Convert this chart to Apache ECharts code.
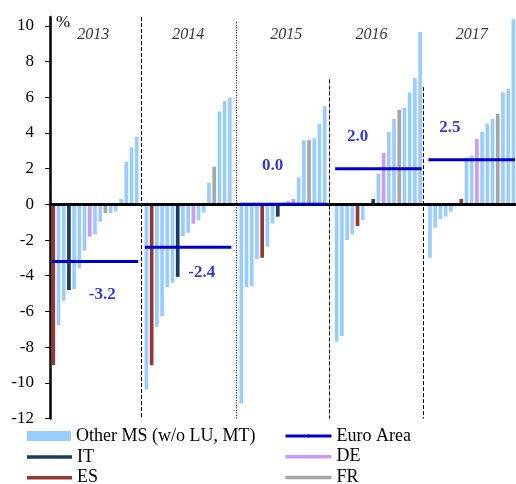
<!doctype html>
<html>
<head>
<meta charset="UTF-8">
<title>Euro Area</title>
<script src="https://cdn.jsdelivr.net/npm/echarts@6/dist/echarts.min.js"></script>
<style>
	html, body { margin: 0; padding: 0; background: #fff; }
	#chart { width: 516px; height: 484px; }
</style>
</head>
<body>
<div id="chart"></div>
<script type="text/javascript">
	// data
	var years = ['2013', '2014', '2015', '2016', '2017'];
	var euroArea = [-3.2, -2.4, 0.0, 2.0, 2.5];
	var yTicks = [-12, -10, -8, -6, -4, -2, 0, 2, 4, 6, 8, 10];

	var values2013 = [-9.0, -6.77, -5.4, -4.8, -4.75, -3.59, -2.6, -1.81, -1.68, -0.97, -0.5, -0.5, -0.4, 0.3, 2.39, 3.2, 3.79];
	var members2013 = ['ES', 'O', 'O', 'IT', 'O', 'O', 'O', 'DE', 'O', 'O', 'FR', 'O', 'O', 'O', 'O', 'O', 'O'];
	var values2014 = [-10.37, -9.0, -6.86, -6.26, -4.65, -4.39, -4.06, -1.78, -1.59, -1.08, -0.88, -0.47, 1.21, 2.11, 5.2, 5.79, 5.98];
	var members2014 = ['O', 'ES', 'O', 'O', 'O', 'O', 'IT', 'O', 'O', 'DE', 'O', 'O', 'O', 'FR', 'O', 'O', 'O'];
	var values2015 = [-11.16, -4.65, -4.58, -3.07, -2.99, -2.37, -1.07, -0.69, 0.1, 0.2, 0.3, 1.51, 3.59, 3.6, 3.7, 4.5, 5.5];
	var members2015 = ['O', 'O', 'O', 'O', 'ES', 'O', 'O', 'IT', 'O', 'O', 'DE', 'O', 'O', 'FR', 'O', 'O', 'O'];
	var values2016 = [-7.7, -7.38, -2.0, -1.68, -1.21, -0.88, 0.0, 0.3, 1.72, 2.88, 4.07, 4.79, 5.29, 5.4, 6.28, 7.08, 9.66];
	var members2016 = ['O', 'O', 'O', 'O', 'ES', 'O', 'O', 'IT', 'O', 'DE', 'O', 'O', 'FR', 'O', 'O', 'O', 'O'];
	var values2017 = [-2.99, -1.31, -0.82, -0.69, -0.41, 0.0, 0.3, 2.62, 2.73, 3.66, 4.07, 4.5, 4.8, 5.07, 6.28, 6.47, 10.37];
	var members2017 = ['O', 'O', 'O', 'O', 'O', 'IT', 'ES', 'O', 'O', 'DE', 'O', 'O', 'O', 'FR', 'O', 'O', 'O'];

	var allValues = [values2013, values2014, values2015, values2016, values2017];
	var allMembers = [members2013, members2014, members2015, members2016, members2017];

	// layout (slot positions on the x axis)
	var groupStart = [0.63, 18.5, 36.7, 55.0, 72.9];
	var separatorX = [17.6, 35.7, 53.55, 71.6];
	var separatorTop = [10.5, 10.2, 7.0, 6.57];
	var separatorDash = ['dashed', [1, 1.5], 'dashed', 'dashed'];
	var yearLabelX = [8.3, 26.5, 45.3, 61.7, 80.9];
	var euroLabelShift = [9.4, 10.6, 6.0, 4.0, 3.8];
	var euroLabelDy = [33, 25, -39, -32, -32];

	var seriesDefs = [
		{ key: 'O', name: 'Other MS (w/o LU, MT)', color: '#99CCFF' },
		{ key: 'IT', name: 'IT', color: '#1B3A60' },
		{ key: 'DE', name: 'DE', color: '#CC99FF' },
		{ key: 'ES', name: 'ES', color: '#953735' },
		{ key: 'FR', name: 'FR', color: '#A6A6A6' }
	];
	var euroColor = '#0000CC';
	var serif = 'Liberation Serif';

	var series = [];
	for (var s = 0; s < seriesDefs.length; s++) {
		var def = seriesDefs[s];
		var data = [];
		for (var g = 0; g < years.length; g++) {
			for (var i = 0; i < allValues[g].length; i++) {
				if (allMembers[g][i] == def.key) {
					data.push([groupStart[g] + i, allValues[g][i]]);
				}
			}
		}
		series.push({
			name: def.name,
			type: 'bar',
			data: data,
			barWidth: 3.7,
			barGap: '-100%',
			itemStyle: { color: def.color },
			z: 2
		});
	}

	// year separators
	var sepData = [];
	for (var k = 0; k < separatorX.length; k++) {
		sepData.push([
			{ coord: [separatorX[k], separatorTop[k]], lineStyle: { type: separatorDash[k], color: '#000', width: 1 } },
			{ coord: [separatorX[k], -12] }
		]);
	}
	series[0].markLine = {
		silent: true,
		symbol: ['none', 'none'],
		label: { show: false },
		data: sepData
	};

	// euro area lines
	for (var g = 0; g < years.length; g++) {
		var last = groupStart[g] + allValues[g].length - 1;
		series.push({
			name: 'Euro Area',
			type: 'line',
			symbol: 'none',
			data: [[groupStart[g] - 0.3, euroArea[g]], [last + 0.3, euroArea[g]]],
			lineStyle: { color: euroColor, width: 3 },
			itemStyle: { color: euroColor },
			z: 20
		});
	}

	// euro area value labels
	var euroLabels = [];
	for (var g = 0; g < years.length; g++) {
		euroLabels.push({
			value: [groupStart[g] + euroLabelShift[g], euroArea[g]],
			label: { offset: [0, euroLabelDy[g]] }
		});
	}
	series.push({
		name: 'euroLabels',
		type: 'scatter',
		symbolSize: 0,
		silent: true,
		data: euroLabels,
		label: {
			show: true,
			position: 'inside',
			formatter: function(p) { return p.value[1].toFixed(1); },
			color: euroColor,
			fontFamily: serif,
			fontWeight: 'bold',
			fontSize: 17
		},
		z: 21
	});

	// year labels
	var yearData = [];
	for (var g = 0; g < years.length; g++) {
		yearData.push([yearLabelX[g], 9.5, years[g]]);
	}
	series.push({
		name: 'years',
		type: 'scatter',
		symbolSize: 0,
		silent: true,
		data: yearData,
		label: {
			show: true,
			position: 'inside',
			formatter: function(p) { return p.value[2]; },
			color: '#000',
			fontFamily: serif,
			fontStyle: 'italic',
			fontSize: 16
		}
	});

	var legendText = { fontFamily: serif, fontSize: 18, color: '#000', lineHeight: 18 };

	var option = {
		animation: false,
		backgroundColor: '#fff',
		grid: { left: 50, right: 0, top: 17, bottom: 65.5 },
		legend: [{
			data: [{ name: 'Other MS (w/o LU, MT)', icon: 'rect' }],
			left: 27, top: 427, padding: 0,
			itemWidth: 44, itemHeight: 10,
			textStyle: legendText
		}, {
			data: [{ name: 'IT', icon: 'rect' }, { name: 'ES', icon: 'rect' }],
			orient: 'vertical',
			left: 27, top: 448, height: 80, padding: 0,
			itemWidth: 45, itemHeight: 3.5, itemGap: 2.7,
			textStyle: legendText
		}, {
			data: [{ name: 'Euro Area' }, { name: 'DE', icon: 'rect' }, { name: 'FR', icon: 'rect' }],
			orient: 'vertical',
			left: 284, top: 427, height: 80, padding: 0,
			itemWidth: 46, itemHeight: 3.5, itemGap: 2.7,
			lineStyle: { width: 3 },
			textStyle: legendText
		}],
		xAxis: {
			type: 'value',
			min: 0,
			max: 89.4,
			z: 10,
			axisLine: { onZero: true, lineStyle: { color: '#000', width: 3 } },
			axisTick: { show: false },
			axisLabel: { show: false },
			splitLine: { show: false }
		},
		yAxis: {
			type: 'value',
			min: -12,
			max: 10.5,
			interval: 2,
			name: '%',
			nameLocation: 'end',
			nameGap: -6,
			nameTextStyle: { fontFamily: serif, fontSize: 17, color: '#000', align: 'left', verticalAlign: 'middle', padding: [0, 0, 0, 6] },
			axisLine: { show: true, onZero: false, lineStyle: { color: '#000', width: 2.5 } },
			axisTick: { show: true, length: 5, customValues: yTicks, lineStyle: { color: '#000' } },
			axisLabel: { customValues: yTicks, margin: 16, fontFamily: serif, fontSize: 17, color: '#000' },
			splitLine: { show: false }
		},
		series: series
	};

	var chart = echarts.init(document.getElementById('chart'));
	chart.setOption(option);
</script>
</body>
</html>
